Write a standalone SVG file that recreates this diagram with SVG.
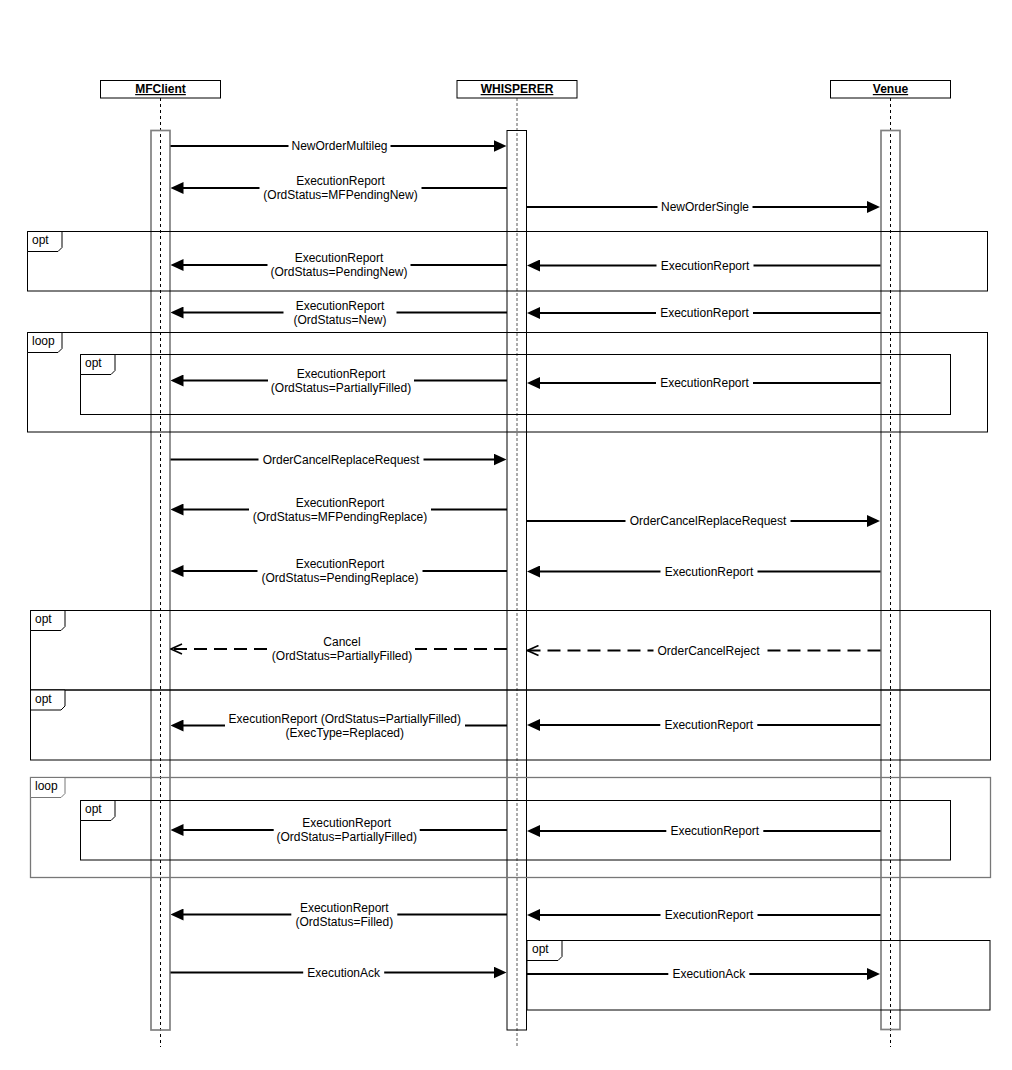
<svg xmlns="http://www.w3.org/2000/svg" width="1012" height="1070" viewBox="0 0 1012 1070">
<defs>
<style>
text{font-family:"Liberation Sans",Arial,sans-serif;font-size:12px;fill:#000}
.hdr{font-weight:bold;text-decoration:underline;text-anchor:middle}
.lbl{text-anchor:middle}
.box{fill:#fff;stroke:#000;stroke-width:1}
.life{fill:none;stroke:#000;stroke-width:1;stroke-dasharray:3 3}
.lifeg{fill:none;stroke:#808080;stroke-width:1.3;stroke-dasharray:3 2}
.act{fill:none;stroke:#808080;stroke-width:1.7}
.actk{fill:none;stroke:#000;stroke-width:1}
.frame{fill:none;stroke:#000;stroke-width:1}
.frameg{fill:none;stroke:#777;stroke-width:1.3}
.tab{fill:#fff;stroke:#000;stroke-width:1}
.msg{fill:none;stroke:#000;stroke-width:2;marker-end:url(#block)}
.ret{fill:none;stroke:#000;stroke-width:2;stroke-dasharray:13 7;marker-end:url(#open)}
.bg{fill:#fff;stroke:none}
</style>
<marker id="block" markerUnits="userSpaceOnUse" viewBox="0 0 13 12" refX="5" refY="6" markerWidth="13" markerHeight="12" orient="auto">
<path d="M0,0 L13,6 L0,12 Z" fill="#000"/>
</marker>
<marker id="open" markerUnits="userSpaceOnUse" viewBox="-1 -1 13 12" refX="11" refY="5" markerWidth="13" markerHeight="12" orient="auto">
<path d="M0,0 L11,5 L0,10" fill="none" stroke="#000" stroke-width="1.6"/>
</marker>
</defs>
<rect x="0" y="0" width="1012" height="1070" fill="#fff"/>

<g id="lifelines">
<line class="life" x1="160.5" y1="98" x2="160.5" y2="1047"/>
<line class="lifeg" x1="517" y1="98" x2="517" y2="1047"/>
<line class="life" x1="890.5" y1="98" x2="890.5" y2="1047"/>
</g>

<g id="MFClient">
<rect class="box" x="100.5" y="80.5" width="120" height="17.5"/>
<text class="hdr" x="160.5" y="93">MFClient</text>
<rect class="act" x="151" y="130.5" width="19" height="899.5"/>
</g>
<g id="WHISPERER">
<rect class="box" x="457" y="80.5" width="120" height="17.5"/>
<text class="hdr" x="517" y="93">WHISPERER</text>
<rect class="actk" x="507" y="130.5" width="19.5" height="899.5"/>
</g>
<g id="Venue">
<rect class="box" x="830.5" y="80.5" width="120" height="17.5"/>
<text class="hdr" x="890.5" y="93">Venue</text>
<rect class="act" x="881" y="130.5" width="19" height="899"/>
</g>

<g id="frames">
<g id="opt1"><rect class="frame" x="27.5" y="231.5" width="960" height="59.5"/><path class="tab" d="M27.5,231.5 H62 V247.5 L58,251.5 H27.5 Z"/><text x="32" y="244">opt</text></g>
<g id="loop1"><rect class="frame" x="27.5" y="332.5" width="960" height="99.5"/><path class="tab" d="M27.5,332.5 H62 V348.5 L58,352.5 H27.5 Z"/><text x="32" y="345">loop</text></g>
<g id="opt1b"><rect class="frame" x="80.5" y="354.5" width="870" height="60"/><path class="tab" d="M80.5,354.5 H115 V370.5 L111,374.5 H80.5 Z"/><text x="85" y="367">opt</text></g>
<g id="opt2"><rect class="frame" x="30.5" y="610.5" width="960" height="79.5"/><path class="tab" d="M30.5,610.5 H65 V626.5 L61,630.5 H30.5 Z"/><text x="35" y="623">opt</text></g>
<g id="opt3"><rect class="frame" x="30.5" y="690" width="960" height="70"/><path class="tab" d="M30.5,690 H65 V706 L61,710 H30.5 Z"/><text x="35" y="702.5">opt</text></g>
<g id="loop2"><rect class="frameg" x="30.5" y="777.5" width="960" height="100"/><path class="tab" d="M30.5,777.5 H65 V793.5 L61,797.5 H30.5 Z" style="stroke:#777"/><text x="35" y="790">loop</text></g>
<g id="opt4"><rect class="frame" x="80.5" y="800.5" width="870" height="59.5"/><path class="tab" d="M80.5,800.5 H115 V816.5 L111,820.5 H80.5 Z"/><text x="85" y="813">opt</text></g>
<g id="opt5"><rect class="frame" x="527" y="940.5" width="463" height="69.5"/><path class="tab" d="M527,940.5 H562 V956.5 L558,960.5 H527 Z"/><text x="532" y="953">opt</text></g>
</g>

<g id="connectors">
<line class="msg" x1="170.5" y1="146" x2="498.5" y2="146"/>
<rect class="bg" x="288.5" y="138" width="102" height="16"/>
<text class="lbl" x="339.5" y="150">NewOrderMultileg</text>

<line class="msg" x1="507" y1="188" x2="178.5" y2="188"/>
<rect class="bg" x="259.5" y="175" width="162" height="28"/>
<text class="lbl" x="340.5" y="185">ExecutionReport</text>
<text class="lbl" x="340.5" y="199">(OrdStatus=MFPendingNew)</text>

<line class="msg" x1="526.5" y1="207" x2="872" y2="207"/>
<rect class="bg" x="657.5" y="199" width="95" height="16"/>
<text class="lbl" x="705" y="211">NewOrderSingle</text>

<line class="msg" x1="507" y1="265" x2="178.5" y2="265"/>
<rect class="bg" x="267.5" y="252" width="143" height="28"/>
<text class="lbl" x="339" y="262">ExecutionReport</text>
<text class="lbl" x="339" y="276">(OrdStatus=PendingNew)</text>

<line class="msg" x1="880.5" y1="265.5" x2="535" y2="265.5"/>
<rect class="bg" x="656.5" y="257.5" width="97" height="16"/>
<text class="lbl" x="705" y="269.5">ExecutionReport</text>

<line class="msg" x1="507" y1="312.5" x2="178.5" y2="312.5"/>
<rect class="bg" x="283.5" y="299.5" width="113" height="28"/>
<text class="lbl" x="340" y="309.5">ExecutionReport</text>
<text class="lbl" x="340" y="323.5">(OrdStatus=New)</text>

<line class="msg" x1="880.5" y1="313" x2="535" y2="313"/>
<rect class="bg" x="656" y="305" width="97" height="16"/>
<text class="lbl" x="704.5" y="317">ExecutionReport</text>

<line class="msg" x1="507" y1="380.5" x2="178.5" y2="380.5"/>
<rect class="bg" x="268" y="367.5" width="146" height="28"/>
<text class="lbl" x="341" y="377.5">ExecutionReport</text>
<text class="lbl" x="341" y="391.5">(OrdStatus=PartiallyFilled)</text>

<line class="msg" x1="880.5" y1="383" x2="535" y2="383"/>
<rect class="bg" x="656" y="375" width="97" height="16"/>
<text class="lbl" x="704.5" y="387">ExecutionReport</text>

<line class="msg" x1="170.5" y1="459.5" x2="498.5" y2="459.5"/>
<rect class="bg" x="258.5" y="451.5" width="165" height="16"/>
<text class="lbl" x="341" y="463.5">OrderCancelReplaceRequest</text>

<line class="msg" x1="507" y1="509.5" x2="178.5" y2="509.5"/>
<rect class="bg" x="249" y="496.5" width="182" height="28"/>
<text class="lbl" x="340" y="506.5">ExecutionReport</text>
<text class="lbl" x="340" y="520.5">(OrdStatus=MFPendingReplace)</text>

<line class="msg" x1="526.5" y1="521" x2="872" y2="521"/>
<rect class="bg" x="625.5" y="513" width="165" height="16"/>
<text class="lbl" x="708" y="525">OrderCancelReplaceRequest</text>

<line class="msg" x1="507" y1="571" x2="178.5" y2="571"/>
<rect class="bg" x="257.5" y="558" width="165" height="28"/>
<text class="lbl" x="340" y="568">ExecutionReport</text>
<text class="lbl" x="340" y="582">(OrdStatus=PendingReplace)</text>

<line class="msg" x1="880.5" y1="571.5" x2="535" y2="571.5"/>
<rect class="bg" x="660.5" y="563.5" width="97" height="16"/>
<text class="lbl" x="709" y="575.5">ExecutionReport</text>

<line class="ret" x1="507" y1="649" x2="171" y2="649"/>
<rect class="bg" x="269" y="636" width="146" height="28"/>
<text class="lbl" x="342" y="646">Cancel</text>
<text class="lbl" x="342" y="660">(OrdStatus=PartiallyFilled)</text>

<line class="ret" x1="880.5" y1="650.5" x2="527.5" y2="650.5"/>
<rect class="bg" x="653.5" y="642.5" width="110" height="16"/>
<text class="lbl" x="708.5" y="654.5">OrderCancelReject</text>

<line class="msg" x1="507" y1="725.5" x2="178.5" y2="725.5"/>
<rect class="bg" x="225" y="712.5" width="240" height="28"/>
<text class="lbl" x="344.8" y="722.5">ExecutionReport (OrdStatus=PartiallyFilled)</text>
<text class="lbl" x="344.8" y="736.5">(ExecType=Replaced)</text>

<line class="msg" x1="880.5" y1="725" x2="535" y2="725"/>
<rect class="bg" x="660.3" y="717" width="97" height="16"/>
<text class="lbl" x="708.8" y="729">ExecutionReport</text>

<line class="msg" x1="507" y1="830" x2="178.5" y2="830"/>
<rect class="bg" x="273.7" y="817" width="146" height="28"/>
<text class="lbl" x="346.7" y="827">ExecutionReport</text>
<text class="lbl" x="346.7" y="841">(OrdStatus=PartiallyFilled)</text>

<line class="msg" x1="880.5" y1="831" x2="535" y2="831"/>
<rect class="bg" x="666.3" y="823" width="97" height="16"/>
<text class="lbl" x="714.8" y="835">ExecutionReport</text>

<line class="msg" x1="507" y1="914.5" x2="178.5" y2="914.5"/>
<rect class="bg" x="291.3" y="901.5" width="106" height="28"/>
<text class="lbl" x="344.3" y="911.5">ExecutionReport</text>
<text class="lbl" x="344.3" y="925.5">(OrdStatus=Filled)</text>

<line class="msg" x1="880.5" y1="915" x2="535" y2="915"/>
<rect class="bg" x="660.5" y="907" width="97" height="16"/>
<text class="lbl" x="709" y="919">ExecutionReport</text>

<line class="msg" x1="170.5" y1="972.5" x2="498.5" y2="972.5"/>
<rect class="bg" x="303.2" y="964.5" width="81" height="16"/>
<text class="lbl" x="343.7" y="976.5">ExecutionAck</text>

<line class="msg" x1="526.5" y1="974" x2="872" y2="974"/>
<rect class="bg" x="668.3" y="966" width="81" height="16"/>
<text class="lbl" x="708.8" y="978">ExecutionAck</text>
</g>
</svg>
